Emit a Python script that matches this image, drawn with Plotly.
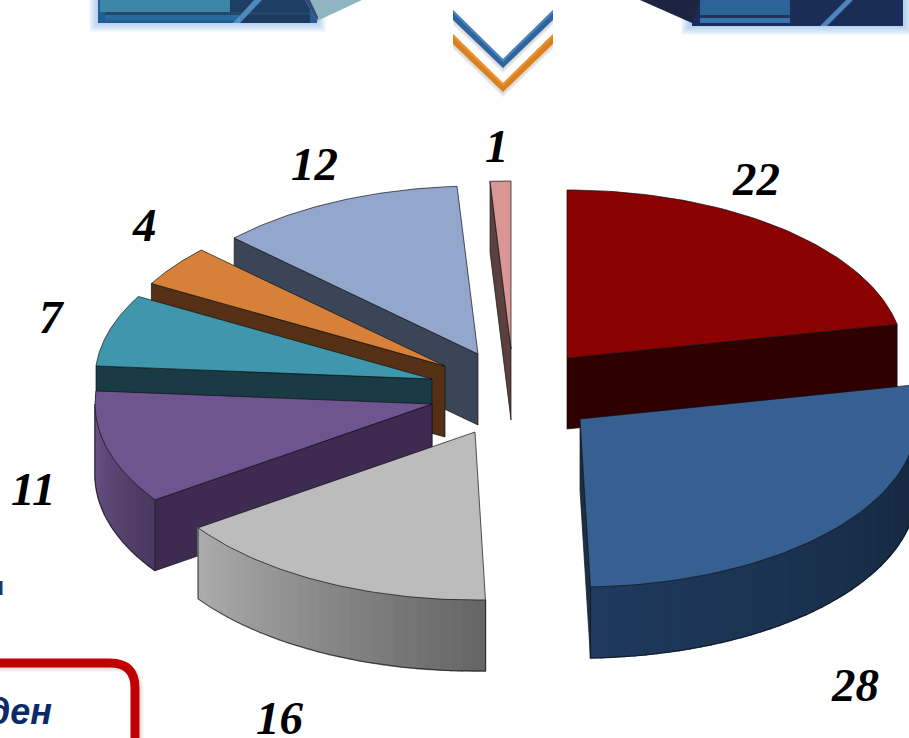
import numpy as np
import plotly.graph_objects as go

# ---- data ----
values = [22, 28, 16, 11, 7, 4, 12, 1]
labels = ["22", "28", "16", "11", "7", "4", "12", "1"]

# ---- styling / layout ----
top_colors = ["#8B0000", "#376092", "#BCBCBC", "#6F5590", "#3F97AE", "#D7803A", "#93A7CD", "#D99694"]
side_colors = ["#2E0000", "#1B3048", "#8A8A8A", "#3D2B52", "#1A3A46", "#553014", "#3A4558", "#5C3F3F"]
rim_from = ["#2E0000", "#1F3A5E", "#ABABAB", "#6B5488", "#1A3A46", "#553014", "#3A4558", "#5C3F3F"]
rim_to = ["#2E0000", "#14263C", "#666666", "#4A3960", "#1A3A46", "#553014", "#3A4558", "#5C3F3F"]
apex_x = [567, 580, 475, 432, 432, 445, 478, 511]
apex_y = [358, 419, 432, 404, 379, 366, 354, 349]
label_x = [756, 855, 280, 33, 52, 144, 314, 497]
label_y = [179, 685, 718, 489, 317, 225, 164, 146]
draw_order = [7, 6, 5, 4, 3, 2, 0, 1]
RX, RY, DEPTH = 337, 168, 71


def hexrgb(h):
    return np.array([int(h[i:i + 2], 16) for i in (1, 3, 5)], float)


def mix(a, b, t):
    c = hexrgb(a) * (1 - t) + hexrgb(b) * t
    return "rgb(%d,%d,%d)" % tuple(c.round())


def poly(fig, xs, ys, fill, line="#111111", lw=0.7, name=""):
    fig.add_trace(go.Scatter(x=list(xs), y=list(ys), mode="lines", fill="toself", fillcolor=fill,
                             line=dict(color=line, width=lw), hoverinfo="skip", name=name,
                             showlegend=False))


def rect(fig, x0, y0, x1, y1, color, op=1.0):
    fig.add_shape(type="rect", x0=x0, y0=y0, x1=x1, y1=y1, fillcolor=color, opacity=op,
                  line_width=0, layer="below")


def path_shape(fig, pts, fill, op=1.0):
    p = "M " + " L ".join(f"{x},{y}" for x, y in pts) + " Z"
    fig.add_shape(type="path", path=p, fillcolor=fill, opacity=op, layer="below", line_width=0)


fig = go.Figure()

# ---- slide decoration: banners ----
for g in range(9, 0, -1):
    rect(fig, 98 - g, 0, 317 + g, 23 + g, "#6FA8E0", 0.07)
    rect(fig, 690 - g, 0, 904 + g, 26 + g, "#6FA8E0", 0.07)
# left banner
rect(fig, 98, 0, 317, 23, "#1F5F95")
rect(fig, 100, 0, 310, 12, "#3C87A8")
rect(fig, 105, 12, 310, 15, "#24486A")
rect(fig, 105, 15, 310, 20, "#2A6A9C")
rect(fig, 230, 0, 310, 12, "#1D3F66")
rect(fig, 240, 15, 310, 23, "#1B3A60")
path_shape(fig, [(233, 23), (240, 23), (262, 0), (254, 0)], "#5A9BD5", 0.8)
path_shape(fig, [(305, 0), (317, 21), (362, 0)], "#8FB4C2")
path_shape(fig, [(305, 0), (317, 21), (318, 17), (310, 0)], "#35497A")
# right banner
rect(fig, 692, 0, 903, 26, "#1B2C5C")
rect(fig, 700, 0, 895, 15, "#2E6398")
rect(fig, 700, 15, 895, 18, "#1F3659")
rect(fig, 700, 18, 895, 23, "#3773B0")
rect(fig, 790, 0, 895, 23, "#1A2D55")
path_shape(fig, [(820, 26), (827, 26), (853, 0), (846, 0)], "#5A9BD5", 0.8)
path_shape(fig, [(640, 0), (692, 23), (700, 0)], "#1B2440")

# ---- chevrons ----
for off, col, hi in [(0, "#2F659F", "#5A8FC8"), (24, "#D9801F", "#F29A3C")]:
    pts = [(453, 10 + off), (503, 59 + off), (553, 10 + off), (553, 20 + off), (503, 68 + off), (453, 20 + off)]
    for g in (5, 3):
        path_shape(fig, [(x, y + g) for x, y in pts], "#777777", 0.13)
    path_shape(fig, pts, col)
    path_shape(fig, [(453, 10 + off), (503, 59 + off), (553, 10 + off), (553, 13 + off), (503, 62 + off), (453, 13 + off)], hi, 0.7)

# ---- rounded red box ----
for g in (4, 2):
    fig.add_shape(type="path", path=f"M -10,{663+g} L {110+g},{663+g} Q {135+g},{663+g} {135+g},{688+g} L {135+g},750",
                  line=dict(color="#888888", width=9), opacity=0.12, layer="below")
fig.add_shape(type="path", path="M -10,663 L 110,663 Q 135,663 135,688 L 135,750",
              line=dict(color="#C00000", width=9), layer="below")

# ---- 3D pie wedges: angles come from the values ----
total = sum(values)
edges = np.cumsum([0] + values) / total * 2 * np.pi


def pos(i, t, dz=0):
    return apex_x[i] + RX * np.sin(t), apex_y[i] - RY * np.cos(t) + dz


for i in draw_order:
    a, b = edges[i], edges[i + 1]
    ax, ay = apex_x[i], apex_y[i]
    # flat cut faces turned towards the viewer
    for t, sign in ((a, 1), (b, -1)):
        if -np.sin(t) * sign > 0:
            x, y = pos(i, t)
            poly(fig, [ax, x, x, ax, ax], [ay, y, y + DEPTH, ay + DEPTH, ay], side_colors[i])
    # curved rim, front half only
    lo, hi = max(a, np.pi / 2), min(b, 3 * np.pi / 2)
    if hi > lo:
        n = max(8, int((hi - lo) * 30))
        ts = np.linspace(lo, hi, n + 1)
        for k in range(n):
            x0, y0 = pos(i, ts[k])
            x1, y1 = pos(i, ts[k + 1])
            c = mix(rim_to[i], rim_from[i], k / max(n - 1, 1))
            poly(fig, [x0, x1, x1, x0, x0], [y0, y1, y1 + DEPTH, y0 + DEPTH, y0], c, line=c, lw=1.5)
        tt = np.linspace(lo, hi, 40)
        bx, by = pos(i, tt, DEPTH)
        fig.add_trace(go.Scatter(x=bx, y=by, mode="lines", line=dict(color="#111111", width=0.7),
                                 hoverinfo="skip", showlegend=False))
        for t in (lo, hi):
            x, y = pos(i, t)
            fig.add_trace(go.Scatter(x=[x, x], y=[y, y + DEPTH], mode="lines",
                                     line=dict(color="#111111", width=0.7),
                                     hoverinfo="skip", showlegend=False))
    # top face
    ts = np.linspace(a, b, 60)
    tx, ty = pos(i, ts)
    poly(fig, [ax, *tx, ax], [ay, *ty, ay], top_colors[i], name=labels[i])

# ---- labels ----
for lx, ly, s in zip(label_x, label_y, labels):
    fig.add_annotation(x=lx, y=ly, text=s, showarrow=False, xanchor="center", yanchor="middle",
                       font=dict(family="Liberation Serif", size=47, color="#000000", weight="bold", style="italic"))
fig.add_annotation(x=54, y=711, text="ден", showarrow=False, xanchor="right", yanchor="middle",
                   font=dict(family="Liberation Sans", size=36, color="#0B2A6B", weight="bold", style="italic"))
fig.add_annotation(x=6, y=586, text="м", showarrow=False, xanchor="right", yanchor="middle",
                   font=dict(family="Liberation Sans", size=26, color="#1F3864", weight="bold"))

fig.update_layout(width=909, height=738, margin=dict(l=0, r=0, t=0, b=0),
                  paper_bgcolor="#FFFFFF", plot_bgcolor="#FFFFFF", showlegend=False,
                  xaxis=dict(range=[0, 909], visible=False, fixedrange=True),
                  yaxis=dict(range=[738, 0], visible=False, fixedrange=True))
fig.write_html("out.html", config=dict(displayModeBar=False),
               post_script="document.body.style.margin='0';document.body.style.overflow='hidden';")
